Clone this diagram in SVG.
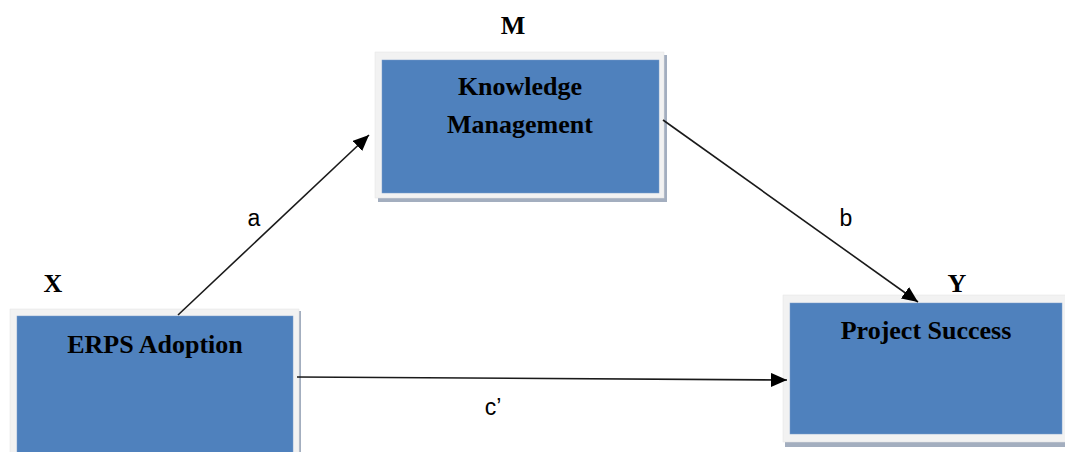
<svg xmlns="http://www.w3.org/2000/svg" width="1065" height="452" viewBox="0 0 1065 452">
<style>
.frame{fill:#F2F2F2;stroke:#E3E3E3;stroke-width:0.5}
.shadow{fill:#A3AEBF}
.box{fill:#4F81BD;stroke:#7A9CCB;stroke-width:0.5}
.title{font-family:"Liberation Serif","Times New Roman",serif;font-weight:bold;font-size:26px;fill:#000;text-anchor:middle}
.var{font-family:"Liberation Serif","Times New Roman",serif;font-weight:bold;font-size:26px;fill:#000;text-anchor:middle}
.lbl{font-family:"Liberation Sans",Arial,sans-serif;font-size:23px;fill:#000;text-anchor:middle}
.conn{stroke:#1A1A1A;stroke-width:1.6;fill:none;marker-end:url(#arr)}
</style>
<defs>
<marker id="arr" markerUnits="userSpaceOnUse" markerWidth="18" markerHeight="14" refX="16" refY="7" orient="auto">
<path d="M0,0 L16,7 L0,14 Z" fill="#000"/>
</marker>
</defs>
<rect width="1065" height="452" fill="#FFFFFF"/>
<g id="node-km">
<rect class="shadow" x="378" y="55" width="289" height="147"/>
<rect class="frame" x="375" y="52" width="289" height="146"/>
<rect class="box" x="382" y="60" width="277" height="133"/>
<text class="title" x="520" y="95">Knowledge</text>
<text class="title" x="520" y="133">Management</text>
<text class="var" x="513" y="34">M</text>
</g>
<g id="node-erps">
<rect class="shadow" x="12" y="311" width="289" height="150"/>
<rect class="frame" x="10" y="309" width="289" height="150"/>
<rect class="box" x="17" y="316" width="276" height="145"/>
<text class="title" x="155" y="353">ERPS Adoption</text>
<text class="var" x="53" y="292">X</text>
</g>
<g id="node-ps">
<rect class="shadow" x="785" y="298" width="290" height="149"/>
<rect class="frame" x="783" y="295" width="290" height="147"/>
<rect class="box" x="790" y="303" width="272" height="131"/>
<text class="title" x="926" y="339">Project Success</text>
<text class="var" x="957" y="292">Y</text>
</g>
<g id="connectors">
<line class="conn" x1="178" y1="315" x2="369" y2="135"/>
<line class="conn" x1="663" y1="120" x2="918" y2="302"/>
<line class="conn" x1="297" y1="377" x2="787" y2="380"/>
<text class="lbl" x="254" y="226">a</text>
<text class="lbl" x="846" y="226">b</text>
<text class="lbl" x="493" y="415">c’</text>
</g>
</svg>
